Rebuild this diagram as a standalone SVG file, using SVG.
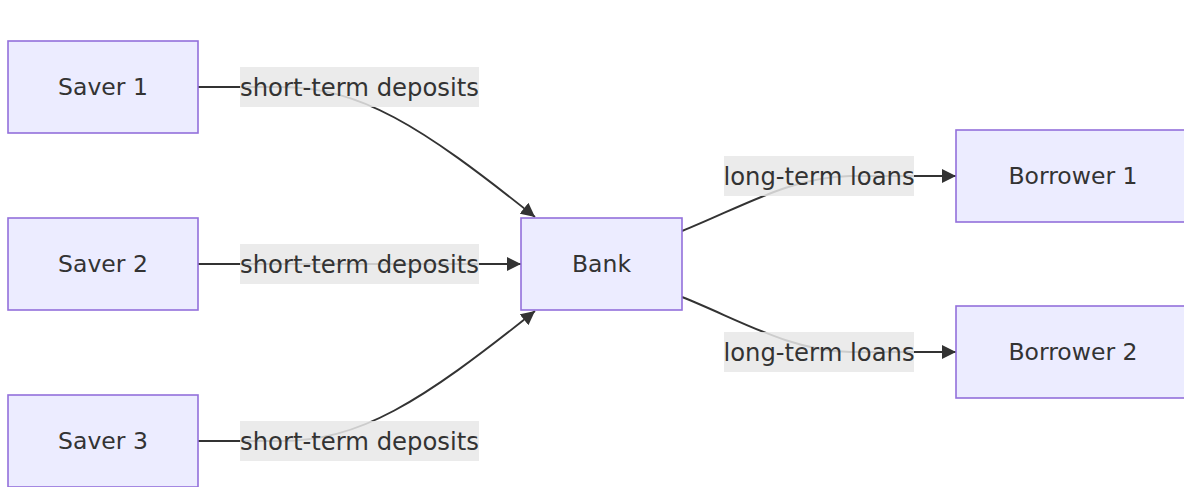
<svg xmlns="http://www.w3.org/2000/svg" width="1184" height="487" viewBox="0 0 1184 487">
<style>
.node rect{fill:#ECECFF;stroke:#9370DB;stroke-width:1.6}
.node text,.lbl text{font-family:"DejaVu Sans",sans-serif;font-size:23.5px;fill:#333;text-anchor:middle;dominant-baseline:central}
.lbl text{font-size:24.3px}
.edge{fill:none;stroke:#333;stroke-width:1.9}
.lbl rect{fill:#e8e8e8;opacity:0.85}
</style>
<defs>
<marker id="arr" viewBox="0 0 10 10" refX="10" refY="5" markerUnits="userSpaceOnUse" markerWidth="14" markerHeight="14" orient="auto">
<path d="M0,0 L10,5 L0,10 z" fill="#333"/>
</marker>
</defs>
<rect width="1184" height="487" fill="#fff"/>
<g id="connectors">
<path class="edge" d="M198,87 L280,87 C360,87 420,125 535,217" marker-end="url(#arr)"/>
<path class="edge" d="M198,264 L521,264" marker-end="url(#arr)"/>
<path class="edge" d="M198,441 L280,441 C360,441 420,403 535,311" marker-end="url(#arr)"/>
<path class="edge" d="M682,231 C740,208 790,177 850,176 L956,176" marker-end="url(#arr)"/>
<path class="edge" d="M682,297 C740,320 790,351 850,352 L956,352" marker-end="url(#arr)"/>
</g>
<g id="labels">
<g class="lbl"><rect x="240" y="67" width="239" height="40"/><text x="359.5" y="87">short-term deposits</text></g>
<g class="lbl"><rect x="240" y="244" width="239" height="40"/><text x="359.5" y="264">short-term deposits</text></g>
<g class="lbl"><rect x="240" y="421" width="239" height="40"/><text x="359.5" y="441">short-term deposits</text></g>
<g class="lbl"><rect x="724" y="156" width="190" height="40"/><text x="819" y="176">long-term loans</text></g>
<g class="lbl"><rect x="724" y="332" width="190" height="40"/><text x="819" y="352">long-term loans</text></g>
</g>
<g id="saver1" class="node"><rect x="8" y="41" width="190" height="92"/><text x="103" y="87">Saver 1</text></g>
<g id="saver2" class="node"><rect x="8" y="218" width="190" height="92"/><text x="103" y="264">Saver 2</text></g>
<g id="saver3" class="node"><rect x="8" y="395" width="190" height="92"/><text x="103" y="441">Saver 3</text></g>
<g id="bank" class="node"><rect x="521" y="218" width="161" height="92"/><text x="601.5" y="264">Bank</text></g>
<g id="borrower1" class="node"><rect x="956" y="130" width="234" height="92"/><text x="1073" y="176">Borrower 1</text></g>
<g id="borrower2" class="node"><rect x="956" y="306" width="234" height="92"/><text x="1073" y="352">Borrower 2</text></g>
</svg>
